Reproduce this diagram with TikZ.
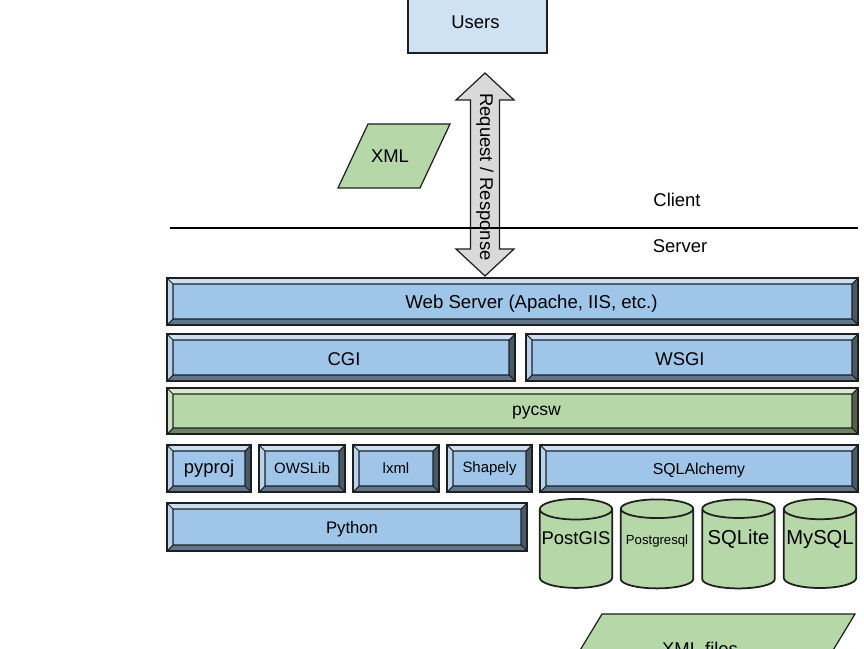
\documentclass[tikz,border=0pt]{standalone}
\usepackage{fontspec}
\setmainfont{Liberation Sans}
\usetikzlibrary{shapes.geometric}

\definecolor{layerblue}{HTML}{9FC5E8}
\definecolor{layergreen}{HTML}{B6D7A8}
\definecolor{userblue}{HTML}{CFE2F3}
\definecolor{arrowgray}{HTML}{D9D9D9}
\definecolor{edgegray}{HTML}{1F1F1F}

% bevelled layer: [text options] name, x1, y1, x2, y2, colour, font, text
\newcommand{\layer}[9][]{%
  \def\b{6}
  \fill[#7] (#3,#4) rectangle (#5,#6);
  \fill[#7!55!white] (#3,#4) -- (#5,#4) -- (#5-\b,#4+\b) -- (#3+\b,#4+\b) -- cycle;
  \fill[#7!75!white] (#3,#4) -- (#3+\b,#4+\b) -- (#3+\b,#6-\b) -- (#3,#6) -- cycle;
  \fill[#7!45!black] (#5,#4) -- (#5,#6) -- (#5-\b,#6-\b) -- (#5-\b,#4+\b) -- cycle;
  \fill[#7!60!black] (#3,#6) -- (#5,#6) -- (#5-\b,#6-\b) -- (#3+\b,#6-\b) -- cycle;
  \draw[edge] (#3,#4) rectangle (#5,#6);
  \draw[edge, line width=0.6pt] (#3+\b,#4+\b) rectangle (#5-\b,#6-\b)
    (#3,#4) -- (#3+\b,#4+\b) (#5,#4) -- (#5-\b,#4+\b)
    (#3,#6) -- (#3+\b,#6-\b) (#5,#6) -- (#5-\b,#6-\b);
  \node[font=#8, #1] (#2) at ({(#3+#5)/2},{(#4+#6)/2}) {#9};
}

\begin{document}
\begin{tikzpicture}[x=0.02cm, y=-0.02cm,
  edge/.style={draw=edgegray, line width=1.1pt},
  box/.style={draw=edgegray, line width=0.7pt},
  db/.style={cylinder, shape border rotate=90, aspect=0.3, draw=edgegray,
    line width=1pt, fill=layergreen, inner sep=0pt,
    text height=0.25cm, text depth=0.45cm,
    minimum width=1.45cm, minimum height=1.78cm}]
  \clip (0,0) rectangle (864,648);

  % client side
  \draw[box, fill=userblue] (408,-2) rectangle (547,53);
  \node[font=\fontsize{10.5}{12}\selectfont] (users) at (475.5,22) {Users};
  \draw[box, fill=layergreen] (368,124) -- (450,124) -- (420,188) -- (338,188) -- cycle;
  \node[font=\fontsize{10.5}{12}\selectfont] (xml) at (390,156) {XML};

  \draw[box, fill=arrowgray] (485,73) -- (514,100) -- (499.5,100) -- (499.5,249)
    -- (514,249) -- (485,276) -- (456,249) -- (470.5,249) -- (470.5,100)
    -- (456,100) -- cycle;
  \node[rotate=-90, font=\fontsize{10.5}{12}\selectfont] (reqres) at (485,177)
    {Request / Response};

  \draw[line width=0.8pt] (170,228) -- (858,228);
  \node[font=\fontsize{10.5}{12}\selectfont] (client) at (677,200) {Client};
  \node[font=\fontsize{10.5}{12}\selectfont] (server) at (680,246) {Server};

  % server stack
  \layer[xshift=0.38cm, yshift=-0.05cm]{web}{167}{278}{858}{325}{layerblue}{\fontsize{10.6}{12}\selectfont}{Web Server (Apache, IIS, etc.)}
  \layer[xshift=0.06cm, yshift=-0.04cm]{cgi}{167}{334}{515}{381}{layerblue}{\fontsize{10.5}{12}\selectfont}{CGI}
  \layer[xshift=-0.24cm, yshift=-0.04cm]{wsgi}{526}{334}{858}{381}{layerblue}{\fontsize{10.5}{12}\selectfont}{WSGI}
  \layer[xshift=0.48cm, yshift=-0.04cm]{pycsw}{167}{388}{858}{434}{layergreen}{\fontsize{10}{12}\selectfont}{pycsw}
  \layer{pyproj}{167}{445}{251}{492}{layerblue}{\fontsize{10.5}{12}\selectfont}{pyproj}
  \layer{owslib}{259}{445}{345}{492}{layerblue}{\fontsize{8.5}{10}\selectfont}{OWSLib}
  \layer{lxml}{353}{445}{439}{492}{layerblue}{\fontsize{8.5}{10}\selectfont}{lxml}
  \layer{shapely}{447}{445}{532}{492}{layerblue}{\fontsize{8.5}{10}\selectfont}{Shapely}
  \layer[yshift=-0.04cm]{sqlalchemy}{540}{445}{858}{492}{layerblue}{\fontsize{9}{11}\selectfont}{SQLAlchemy}
  \layer[xshift=0.1cm, yshift=-0.04cm]{python}{167}{503}{527}{551}{layerblue}{\fontsize{9.5}{11}\selectfont}{Python}

  % databases
  \node[db, font=\fontsize{10.5}{12}\selectfont] (postgis) at (576,549) {PostGIS};
  \node[db, font=\fontsize{7.5}{9}\selectfont] (postgresql) at (657,549) {Postgresql};
  \node[db, font=\fontsize{11.5}{13}\selectfont] (sqlite) at (738.5,549) {SQLite};
  \node[db, font=\fontsize{11.5}{13}\selectfont] (mysql) at (820,549) {MySQL};

  \draw[box, fill=layergreen] (602,614) -- (855,614) -- (815,680) -- (562,680) -- cycle;
  \node[font=\fontsize{10.5}{12}\selectfont, anchor=north] (xmlfiles) at (700,636) {XML files};
\end{tikzpicture}
\end{document}
